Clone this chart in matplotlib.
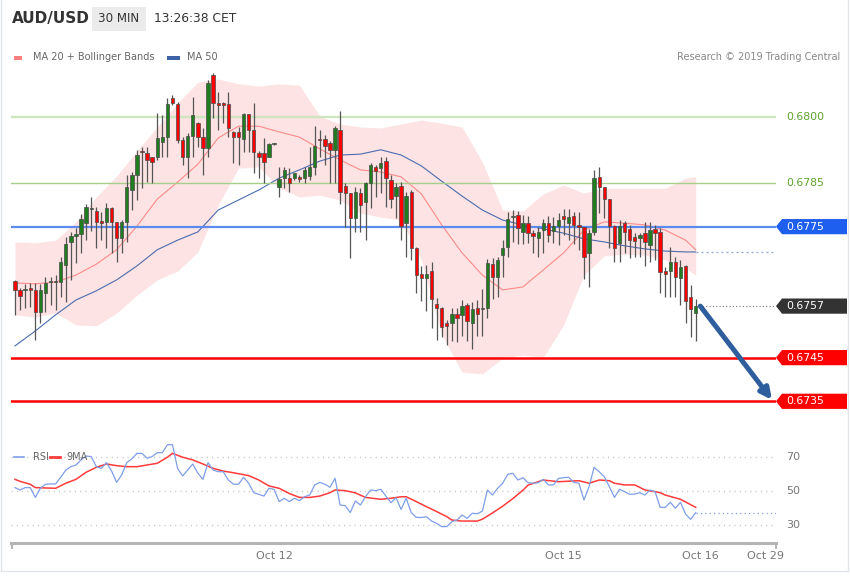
import matplotlib
matplotlib.use('Agg')
import matplotlib.pyplot as plt
from matplotlib.patches import Rectangle, Polygon
from matplotlib.lines import Line2D

plt.rcParams['font.family'] = ['DejaVu Sans']

# ---------------- data ----------------
symbol = "AUD/USD"
timeframe = "30 MIN"
clock = "13:26:38 CET"

opens = [.67626,.67605,.67605,.67610,.67605,.67555,.67598,.67623,.67623,.67623,
         .67662,.67715,.67728,.67733,.67758,.67791,.67786,.67763,.67761,.67793,
         .67761,.67724,.67761,.67834,.67868,.67923,.67919,.67910,.67910,.67944,
         .67955,.68045,.68030,.67948,.67910,.67958,.67987,.67955,.67930,.68097,
         .68033,.68033,.68030,.67967,.67967,.67951,.68008,.67971,.67919,.67919,
         .67910,.67939,.67841,.67861,.67861,.67861,.67864,.67861,.67866,.67887,
         .67951,.67951,.67942,.67926,.67971,.67843,.67827,.67770,.67827,.67806,
         .67850,.67887,.67884,.67901,.67857,.67820,.67843,.67758,.67829,.67701,
         .67642,.67633,.67649,.67573,.67564,.67530,.67530,.67550,.67548,.67571,
         .67530,.67564,.67561,.67564,.67665,.67635,.67685,.67703,.67772,.67777,
         .67738,.67758,.67735,.67724,.67742,.67758,.67740,.67752,.67775,.67758,
         .67775,.67754,.67749,.67690,.67738,.67864,.67841,.67813,.67752,.67712,
         .67758,.67745,.67726,.67724,.67735,.67708,.67745,.67738,.67649,.67649,
         .67669,.67633,.67660,.67589,.67552]
highs = [.67628,.67610,.67619,.67621,.67621,.67619,.67635,.67635,.67639,.67681,
         .67726,.67738,.67747,.67779,.67802,.67818,.67795,.67784,.67804,.67795,
         .67761,.67765,.67868,.67875,.67926,.67932,.67932,.67910,.68010,.68006,
         .68045,.68051,.68035,.67955,.67964,.68047,.67990,.67976,.68086,.68102,
         .68058,.68035,.68058,.67969,.67978,.68010,.68008,.68033,.67923,.67953,
         .67942,.67942,.67887,.67887,.67884,.67873,.67868,.67887,.67932,.67980,
         .67971,.67960,.67946,.67980,.68015,.67850,.67827,.67841,.67838,.67852,
         .67896,.67891,.67910,.67910,.67868,.67850,.67852,.67829,.67834,.67703,
         .67660,.67662,.67669,.67587,.67566,.67536,.67564,.67564,.67582,.67575,
         .67577,.67582,.67607,.67676,.67678,.67681,.67719,.67784,.67788,.67786,
         .67777,.67775,.67742,.67749,.67768,.67775,.67772,.67781,.67791,.67791,
         .67784,.67784,.67749,.67745,.67880,.67887,.67841,.67813,.67754,.67765,
         .67763,.67754,.67735,.67735,.67761,.67761,.67754,.67747,.67658,.67703,
         .67681,.67674,.67662,.67616,.67584]
lows = [.67548,.67559,.67564,.67566,.67490,.67530,.67555,.67571,.67559,.67589,
        .67577,.67628,.67667,.67690,.67719,.67740,.67701,.67719,.67701,.67690,
        .67669,.67690,.67715,.67788,.67811,.67838,.67852,.67850,.67903,.67910,
        .67910,.68028,.67942,.67891,.67861,.67910,.67932,.67868,.67910,.67999,
        .67971,.67987,.67955,.67896,.67891,.67921,.67921,.67873,.67861,.67850,
        .67910,.67937,.67818,.67838,.67829,.67857,.67852,.67850,.67857,.67868,
        .67910,.67891,.67850,.67850,.67802,.67749,.67678,.67738,.67738,.67719,
        .67793,.67818,.67827,.67795,.67793,.67770,.67719,.67681,.67674,.67598,
        .67580,.67557,.67518,.67490,.67497,.67479,.67488,.67486,.67500,.67488,
        .67470,.67500,.67500,.67541,.67584,.67589,.67635,.67681,.67715,.67710,
        .67710,.67712,.67690,.67681,.67690,.67715,.67712,.67708,.67731,.67719,
        .67710,.67697,.67630,.67612,.67731,.67781,.67770,.67701,.67669,.67669,
        .67690,.67678,.67681,.67681,.67660,.67669,.67674,.67598,.67589,.67589,
        .67589,.67571,.67530,.67497,.67488]
closes = [.67605,.67591,.67607,.67605,.67555,.67605,.67621,.67626,.67626,.67669,
          .67710,.67728,.67733,.67768,.67795,.67793,.67761,.67758,.67793,.67761,
          .67724,.67761,.67841,.67868,.67914,.67921,.67903,.67899,.67953,.67955,
          .68030,.68033,.67948,.67910,.67958,.68006,.67955,.67930,.68079,.68033,
          .68028,.68028,.67976,.67955,.67955,.68008,.67971,.67921,.67910,.67899,
          .67939,.67940,.67859,.67880,.67850,.67873,.67859,.67880,.67887,.67935,
          .67948,.67935,.67926,.67976,.67829,.67827,.67770,.67829,.67800,.67850,
          .67891,.67877,.67896,.67861,.67813,.67841,.67752,.67820,.67701,.67639,
          .67633,.67642,.67584,.67564,.67520,.67523,.67550,.67541,.67568,.67534,
          .67561,.67550,.67564,.67667,.67635,.67674,.67701,.67768,.67775,.67747,
          .67758,.67735,.67728,.67738,.67758,.67731,.67752,.67765,.67768,.67772,
          .67754,.67749,.67681,.67735,.67861,.67841,.67813,.67752,.67701,.67752,
          .67738,.67719,.67717,.67731,.67715,.67742,.67735,.67646,.67642,.67669,
          .67635,.67658,.67580,.67561,.67568]

band_idx = list(range(0, 133, 4)) + [134]
bb_upper = [.67715,.67713,.67719,.67761,.67818,.67866,.67923,.67978,.68033,.68081,
            .68088,.68077,.68072,.68077,.68074,.68003,.67985,.67978,.67976,.67985,
            .67994,.67987,.67978,.67898,.67788,.67786,.67825,.67845,.67827,.67838,
            .67838,.67838,.67838,.67861,.67864]
bb_lower = [.67548,.67543,.67552,.67525,.67523,.67552,.67593,.67628,.67648,.67692,
            .67800,.67884,.67887,.67838,.67818,.67822,.67811,.67781,.67772,.67765,
            .67674,.67502,.67417,.67413,.67449,.67456,.67451,.67525,.67639,.67683,
            .67687,.67685,.67674,.67655,.67639]
ma20 = [.67621,.67619,.67623,.67639,.67664,.67697,.67751,.67813,.67852,.67893,
        .67953,.67980,.67980,.67967,.67955,.67928,.67903,.67880,.67875,.67864,
        .67825,.67754,.67690,.67639,.67605,.67612,.67651,.67690,.67742,.67761,
        .67758,.67754,.67742,.67719,.67697]
ma50 = [.67477,.67511,.67548,.67582,.67603,.67628,.67660,.67697,.67719,.67738,
        .67788,.67811,.67834,.67861,.67880,.67900,.67914,.67916,.67926,.67914,
        .67889,.67854,.67820,.67788,.67765,.67754,.67745,.67735,.67722,.67715,
        .67706,.67699,.67694,.67692,.67692]

rsi = [52.0,50.6,52.0,52.0,46.2,51.6,54.0,54.2,54.2,58.1,
       62.4,64.4,65.4,68.4,70.7,70.4,64.4,63.4,66.8,62.0,
       55.1,59.5,66.8,69.0,72.3,72.3,69.4,70.4,72.7,72.7,
       77.4,77.4,63.4,58.9,62.4,66.0,60.5,56.9,66.8,62.4,
       61.4,61.4,56.5,54.0,54.0,58.1,54.6,49.0,48.0,47.0,
       51.6,51.0,43.7,45.7,43.7,45.7,44.3,46.6,47.6,53.6,
       55.1,54.0,52.2,57.5,41.7,41.3,37.2,44.1,41.7,46.6,
       50.6,50.2,51.0,47.0,43.1,46.0,39.1,45.7,37.2,34.4,
       34.3,34.8,32.2,30.8,28.9,28.9,31.8,32.8,35.8,33.8,
       36.8,36.5,38.1,50.6,47.6,51.6,54.6,59.9,60.5,56.5,
       57.9,54.9,54.6,54.9,56.9,53.6,53.6,57.5,57.9,58.1,
       55.1,54.6,44.7,52.6,64.0,61.4,58.5,52.6,46.2,51.0,
       49.6,48.0,48.2,49.0,47.6,50.6,49.6,40.3,40.3,43.3,
       39.8,43.3,36.4,33.2,37.2]
rsi_ma_idx = [0,1,3,4,8,10,12,14,16,18,20,22,24,26,28,30,31,33,35,37,39,41,43,46,48,
              50,52,54,56,58,60,62,63,65,67,69,72,74,76,77,79,81,83,85,86,88,91,92,
              94,96,98,100,101,104,107,111,113,115,117,118,120,122,124,126,127,128,131,134]
rsi_ma = [56.9,55.7,54.0,52.0,51.6,54.6,56.9,61.1,64.0,66.0,65.0,64.4,64.4,65.4,66.4,
          70.0,72.3,70.0,68.4,66.0,63.4,61.8,60.8,59.1,56.5,53.0,51.6,48.5,46.2,46.2,
          47.0,49.0,50.6,50.2,48.9,46.2,45.1,45.7,46.6,46.6,43.7,40.7,37.8,34.8,32.8,
          32.2,32.2,33.3,37.0,41.0,45.5,50.5,53.5,56.5,55.5,56.1,54.6,56.5,56.1,54.6,
          53.6,53.6,50.6,49.6,49.0,47.6,45.1,40.3]
rsi_levels = [70, 50, 30]

resistance_levels = [0.6800, 0.6785]
pivot_level = 0.6775
support_levels = [0.6745, 0.6735]

date_labels = ['Oct 12', 'Oct 15', 'Oct 16', 'Oct 29']
date_bar_pos = [51.1, 108.0, 134.9, 147.8]

# ---------------- layout ----------------
W, H = 850, 576
fig = plt.figure(figsize=(W / 100, H / 100), dpi=100)
fig.patch.set_facecolor('white')

def fx(px):
    return px / W

def fy(py):
    return 1 - py / H

X0, X1 = 11, 776          # plot area in pixels
BAR0, BAR_W = 15, 5.08    # first bar pixel and bar spacing

def px2k(px):
    return (px - BAR0) / BAR_W

xlim = (px2k(X0), px2k(X1))
n = len(closes)

# main price panel
MT, MB = 70, 432
ax = fig.add_axes([fx(X0), fy(MB), (X1 - X0) / W, (MB - MT) / H])
ymin, ymax = 0.672797, 0.681087
ax.set_xlim(*xlim)
ax.set_ylim(ymin, ymax)
ax.axis('off')
ppx = (ymax - ymin) / (MB - MT)   # price per pixel

# bollinger band + MAs
ax.fill_between(band_idx, bb_lower, bb_upper, color='#fde3e3', lw=0, zorder=1)
ax.plot(band_idx, ma20, color='#ff8a8a', lw=0.8, zorder=2)
ax.plot(band_idx, ma50, color='#4a6db0', lw=0.8, zorder=2)
ax.plot([band_idx[-1], xlim[1]], [ma50[-1], ma50[-1]], color='#8ea3cf', lw=0.9,
        ls=(0, (1.5, 2.5)), zorder=2)

# horizontal levels
ax.axhline(resistance_levels[0], color='#cfe5bf', lw=1.7, zorder=2)
ax.axhline(resistance_levels[1], color='#a7cf8c', lw=1.0, zorder=2)
ax.axhline(pivot_level, color='#5a8cf0', lw=1.6, zorder=2)
for lv in support_levels:
    ax.axhline(lv, color='#ff0000', lw=1.8, zorder=2)

# candles
for k in range(n):
    o, h, l, c = opens[k], highs[k], lows[k], closes[k]
    ax.vlines(k, l, h, color='#555555', lw=0.9, zorder=3)
    up = c >= o
    bottom = min(o, c)
    height = max(abs(c - o), ppx * 1.2)
    ax.add_patch(Rectangle((k - 0.33, bottom), 0.66, height,
                           facecolor='#1f7d1f' if up else '#ff0000',
                           edgecolor='#4a4a4a', lw=0.5, zorder=4))

# last price dotted line
ax.plot([n - 1 + 0.6, xlim[1]], [closes[-1], closes[-1]], color='#777777', lw=0.8,
        ls=(0, (1, 2)), zorder=2)

# arrow towards target
ax.annotate('', xy=(px2k(772), support_levels[1] + 1.5 * ppx),
            xytext=(n - 1 + 0.9, closes[-1]),
            arrowprops=dict(arrowstyle='-|>', color='#2f5e9c', lw=3.6,
                            mutation_scale=16, shrinkA=0, shrinkB=0),
            annotation_clip=False, zorder=8)

# price tags
def tag(price, color, text):
    hh = 7.6 * ppx
    xs = [px2k(776), px2k(782), px2k(847), px2k(847), px2k(782)]
    ys = [price, price + hh, price + hh, price - hh, price - hh]
    ax.add_patch(Polygon(list(zip(xs, ys)), closed=True, fc=color, ec='none',
                         clip_on=False, zorder=6))
    ax.text(px2k(786), price, text, color='white', fontsize=7.8, va='center',
            ha='left', clip_on=False, zorder=7)

for lv in resistance_levels:
    ax.text(px2k(786), lv, f"{lv:.4f}", color='#5ea22b', fontsize=7.8, va='center',
            ha='left', clip_on=False)
tag(pivot_level, '#1f5ff0', f"{pivot_level:.4f}")
tag(closes[-1], '#333333', f"{closes[-1]:.4f}")
for lv in support_levels:
    tag(lv, '#ff0000', f"{lv:.4f}")

# ---------------- RSI panel ----------------
RT, RB = 440, 543
rax = fig.add_axes([fx(X0), fy(RB), (X1 - X0) / W, (RB - RT) / H])
rax.set_xlim(*xlim)
rax.set_ylim(19.2, 80.2)
rax.axis('off')
for lv in rsi_levels:
    rax.axhline(lv, color='#c4c4c4', lw=1.0, ls=(0, (0.8, 3.0)), zorder=1)
    rax.text(px2k(786), lv, str(lv), color='#777777', fontsize=8, va='center',
             ha='left', clip_on=False)
rax.plot(range(n), rsi, color='#7f9ee8', lw=0.9, zorder=3)
rax.plot(rsi_ma_idx, rsi_ma, color='#ff3b3b', lw=1.1, zorder=2)
rax.plot([n - 1, xlim[1]], [rsi[-1], rsi[-1]], color='#7f9ee8', lw=0.9,
         ls=(0, (1, 2.5)), zorder=3)

tr = rax.get_xaxis_transform()
for lab, pos in zip(date_labels, date_bar_pos):
    rax.text(pos, -(556 - RB) / (RB - RT), lab, transform=tr, ha='center', va='center',
             color='#777777', fontsize=8, clip_on=False)

# x-axis line with end ticks
fig.add_artist(Line2D([fx(X0), fx(X1)], [fy(543), fy(543)], color='#b5b5b5', lw=2.2))
for xp in (X0 + 0.5, X1 - 0.5):
    fig.add_artist(Line2D([fx(xp), fx(xp)], [fy(543), fy(548)], color='#b5b5b5', lw=1.4))

# ---------------- header & legends ----------------
fig.text(fx(12), fy(19), symbol, fontsize=11, fontweight='bold', color='#333333',
         va='center', ha='left')
fig.add_artist(Rectangle((fx(92), fy(31)), 54 / W, 24 / H, transform=fig.transFigure,
                         facecolor='#ebebeb', edgecolor='none'))
fig.text(fx(119), fy(19), timeframe, fontsize=8.6, color='#333333', va='center', ha='center')
fig.text(fx(154), fy(19), clock, fontsize=8.8, color='#333333', va='center', ha='left')

fig.add_artist(Rectangle((fx(14), fy(60)), 8 / W, 4 / H, transform=fig.transFigure,
                         facecolor='#ff7f7f', edgecolor='none'))
fig.text(fx(33), fy(57), "MA 20 + Bollinger Bands", fontsize=7, color='#666666',
         va='center', ha='left')
fig.add_artist(Rectangle((fx(167), fy(60)), 13 / W, 4 / H, transform=fig.transFigure,
                         facecolor='#3e62a8', edgecolor='none'))
fig.text(fx(187), fy(57), "MA 50", fontsize=7, color='#666666', va='center', ha='left')
fig.text(fx(840), fy(57), "Research \u00a9 2019 Trading Central", fontsize=7,
         color='#888888', va='center', ha='right')

fig.add_artist(Line2D([fx(14), fx(24)], [fy(457), fy(457)], color='#7f9ee8', lw=1.2))
fig.text(fx(33), fy(457), "RSI", fontsize=7, color='#666666', va='center', ha='left')
fig.add_artist(Line2D([fx(50), fx(60)], [fy(457), fy(457)], color='#ff3b3b', lw=2.0))
fig.text(fx(66), fy(457), "9MA", fontsize=7, color='#666666', va='center', ha='left')

# frame lines
for xs_, ys_ in (([1, 1], [0, 571]), ([848, 848], [0, 571]), ([1, 848], [571, 571])):
    fig.add_artist(Line2D([fx(v) for v in xs_], [fy(v) for v in ys_], color='#e2e6eb', lw=1))

fig.savefig('out.png', dpi=100, facecolor='white')
